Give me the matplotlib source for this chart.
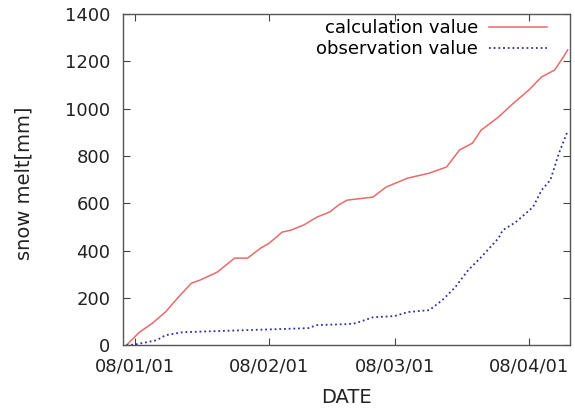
import matplotlib
matplotlib.use('Agg')
import matplotlib.pyplot as plt
import matplotlib.dates as mdates
import numpy as np

# cumulative snow melt, winter 2008
calc_dates = ['2007-12-30', '2008-01-02', '2008-01-05', '2008-01-08', '2008-01-11',
              '2008-01-14', '2008-01-16', '2008-01-20', '2008-01-24', '2008-01-27',
              '2008-01-30', '2008-02-01', '2008-02-04', '2008-02-06', '2008-02-09',
              '2008-02-12', '2008-02-15', '2008-02-17', '2008-02-19', '2008-02-25',
              '2008-02-28', '2008-03-04', '2008-03-09', '2008-03-13', '2008-03-16',
              '2008-03-19', '2008-03-21', '2008-03-25', '2008-03-28', '2008-04-01',
              '2008-04-04', '2008-04-07', '2008-04-09', '2008-04-10']
calc_values = [0, 55, 93, 140, 203, 262, 275, 309, 368, 368,
               410, 431, 478, 486, 508, 541, 563, 592, 613, 626,
               668, 706, 727, 753, 825, 854, 909, 964, 1015, 1078,
               1134, 1163, 1218, 1248]

obs_dates = ['2007-12-30', '2008-01-01', '2008-01-06', '2008-01-08', '2008-01-12',
             '2008-02-10', '2008-02-12', '2008-02-19', '2008-02-21', '2008-02-25',
             '2008-03-01', '2008-03-04', '2008-03-09', '2008-03-12', '2008-03-15',
             '2008-03-18', '2008-03-21', '2008-03-25', '2008-03-26', '2008-03-29',
             '2008-04-02', '2008-04-04', '2008-04-06', '2008-04-08', '2008-04-10']
obs_values = [0, 3, 21, 42, 55, 72, 85, 89, 93, 118,
              123, 140, 148, 190, 245, 317, 372, 452, 486, 520,
              584, 656, 698, 812, 905]

tick_dates = ['2008-01-01', '2008-02-01', '2008-03-01', '2008-04-01']
tick_labels = ['08/01/01', '08/02/01', '08/03/01', '08/04/01']

plt.rcParams['font.family'] = ['DejaVu Sans']

fig = plt.figure(figsize=(5.75, 4.09), dpi=100)
ax = fig.add_axes([0.214, 0.156, 0.777, 0.810])

calc_x = np.array(calc_dates, dtype='datetime64[D]')
obs_x = np.array(obs_dates, dtype='datetime64[D]')

ax.plot(calc_x, calc_values, color='#e86a6a', lw=1.1, label='calculation value')
ax.plot(obs_x, obs_values, color='#30309e', lw=1.3, linestyle=(0, (1, 1.6)),
        label='observation value')

ax.set_xlim(mdates.date2num(np.datetime64('2007-12-29T05')),
            mdates.date2num(np.datetime64('2008-04-10T12')))
ax.set_ylim(0, 1400)
ax.set_yticks(range(0, 1401, 200))
ax.set_xticks(np.array(tick_dates, dtype='datetime64[D]'))
ax.set_xticklabels(tick_labels)

ax.tick_params(direction='in', top=True, right=True, labelsize=13,
               length=5, width=0.8, colors='#444444', labelcolor='#222222')
ax.tick_params(axis='x', pad=9)
ax.tick_params(axis='y', pad=9)
for sp in ax.spines.values():
    sp.set_color('#555555')
    sp.set_linewidth(1.0)

ax.set_xlabel('DATE', fontsize=14, color='#222222')
ax.set_ylabel('snow melt[mm]', fontsize=14, color='#222222')
ax.xaxis.set_label_coords(0.5, -0.13)
ax.yaxis.set_label_coords(-0.2, 0.49)

ax.legend(loc='upper right', bbox_to_anchor=(0.948, 0.985), frameon=False,
          markerfirst=False, fontsize=13, handlelength=3.2, borderpad=0,
          borderaxespad=0, labelspacing=0.2, handletextpad=0.6)

fig.savefig('out.png', dpi=100)
